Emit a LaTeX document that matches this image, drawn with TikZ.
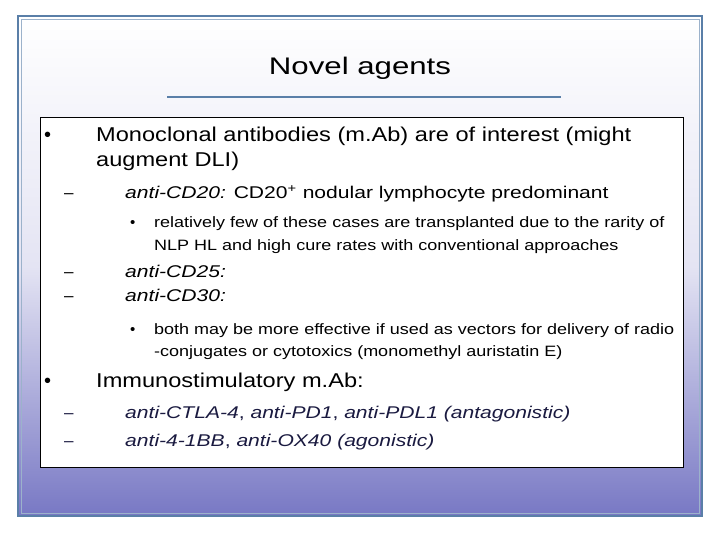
\documentclass[tikz,border=0pt]{standalone}
\usepackage{fontspec}
\setmainfont{Liberation Sans}
\definecolor{frameblue}{HTML}{5A7FA8}
\definecolor{bottomblue}{HTML}{7878C4}
\definecolor{navy}{HTML}{1A1A40}
\newcommand{\sxa}[1]{\scalebox{1.18}[1]{#1}}
\newcommand{\sxb}[1]{\scalebox{1.24}[1]{#1}}
\newcommand{\sxc}[1]{\scalebox{1.2}[1]{#1}}
\begin{document}
\begin{tikzpicture}[x=1pt,y=-1pt,
  lv1/.style={anchor=base west,font=\fontsize{20}{24}\selectfont,inner sep=0},
  lv2/.style={anchor=base west,font=\fontsize{17}{21}\selectfont,inner sep=0},
  lv3/.style={anchor=base west,font=\fontsize{15}{22}\selectfont,inner sep=0}]
\useasboundingbox (0,0) rectangle (720,540);
\fill[white] (0,0) rectangle (720,540);
\shade[top color=white,bottom color=bottomblue,middle color=white!80!bottomblue] (18,16) rectangle (702,516);
\draw[frameblue,line width=1.2pt] (18,16) rectangle (702,516);
\draw[frameblue!60,line width=0.6pt] (21,19) rectangle (699,513);
\node[font=\fontsize{24}{28}\selectfont] (title) at (360,68) {\scalebox{1.3}[1]{Novel agents}};
\draw[frameblue,line width=2.5pt] (167,97) -- (561,97);
\draw[fill=white,line width=0.8pt] (40,117) rectangle (683,467);
\node[lv1] (b1) at (44,142) {•};
\node[lv1] (t1) at (96,142) {\sxa{Monoclonal antibodies (m.Ab) are of interest (might}};
\node[lv1] (t1b) at (96,167) {\sxa{augment DLI)}};
\node[lv2] (d1) at (64,199) {–};
\node[lv2] (t2) at (125,199) {\sxb{\textit{anti-CD20:} CD20\textsuperscript{+} nodular lymphocyte predominant}};
\node[lv3] (b2) at (130,228) {•};
\node[lv3] (t3) at (154,228) {\sxc{relatively few of these cases are transplanted due to the rarity of}};
\node[lv3] (t3b) at (154,250) {\sxc{NLP HL and high cure rates with conventional approaches}};
\node[lv2] (d2) at (64,277) {–};
\node[lv2] (t4) at (125,277) {\sxb{\textit{anti-CD25:}}};
\node[lv2] (d3) at (64,301) {–};
\node[lv2] (t5) at (125,301) {\sxb{\textit{anti-CD30:}}};
\node[lv3] (b3) at (130,334) {•};
\node[lv3] (t6) at (154,334) {\sxc{both may be more effective if used as vectors for delivery of radio}};
\node[lv3] (t6b) at (154,356) {\sxc{-conjugates or cytotoxics (monomethyl auristatin E)}};
\node[lv1] (b4) at (44,387) {•};
\node[lv1] (t7) at (96,387) {\sxa{Immunostimulatory m.Ab:}};
\node[lv2,navy] (d4) at (64,418) {–};
\node[lv2,navy] (t8) at (125,418) {\sxb{\textit{anti-CTLA-4}, \textit{anti-PD1}, \textit{anti-PDL1 (antagonistic)}}};
\node[lv2,navy] (d5) at (64,446) {–};
\node[lv2,navy] (t9) at (125,446) {\sxb{\textit{anti-4-1BB}, \textit{anti-OX40 (agonistic)}}};
\end{tikzpicture}
\end{document}
